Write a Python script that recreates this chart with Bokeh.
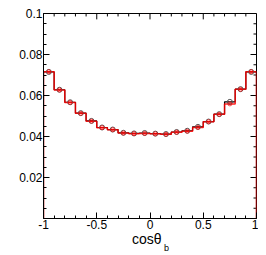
from bokeh.plotting import figure
from bokeh.models import Range1d, LinearAxis, FixedTicker, CustomJSTickFormatter
from bokeh.embed import file_html
from bokeh.resources import INLINE

# ---- data ----
bin_edges = [-1.0, -0.9, -0.8, -0.7, -0.6, -0.5, -0.4, -0.3, -0.2, -0.1, 0.0,
             0.1, 0.2, 0.3, 0.4, 0.5, 0.6, 0.7, 0.8, 0.9, 1.0]
black_vals = [0.0715, 0.0628, 0.0567, 0.0514, 0.0476, 0.0444, 0.0434, 0.0418, 0.0415, 0.0417,
              0.0414, 0.0412, 0.0422, 0.0428, 0.0447, 0.0473, 0.0509, 0.0569, 0.0631, 0.0715]
red_vals = [0.0716, 0.0627, 0.0566, 0.0513, 0.0475, 0.0443, 0.0433, 0.0417, 0.0414, 0.0415,
            0.0413, 0.0411, 0.0421, 0.0426, 0.0444, 0.0472, 0.0508, 0.0559, 0.0630, 0.0716]
red_err = [0.0004] * 20
y_ticks = [0.02, 0.04, 0.06, 0.08, 0.1]
y_minor = [0.005, 0.01, 0.015, 0.025, 0.03, 0.035, 0.045, 0.05, 0.055,
           0.065, 0.07, 0.075, 0.085, 0.09, 0.095]
x_ticks = [-1.0, -0.5, 0.0, 0.5, 1.0]
x_minor = [-0.9, -0.8, -0.7, -0.6, -0.4, -0.3, -0.2, -0.1,
           0.1, 0.2, 0.3, 0.4, 0.6, 0.7, 0.8, 0.9]
x_title = "cosθ"
x_title_pos = -0.03
x_title_sub = "b"
x_sub_pos = 0.155

FONT = "Liberation Sans"

def step_xy(edges, vals):
    xs, ys = [edges[0]], [0.0]
    for i, v in enumerate(vals):
        xs += [edges[i], edges[i + 1]]
        ys += [v, v]
    xs.append(edges[-1]); ys.append(0.0)
    return xs, ys

centers = [(bin_edges[i] + bin_edges[i + 1]) / 2 for i in range(len(black_vals))]

p = figure(width=258, height=255, output_backend="svg", toolbar_location=None,
           x_range=Range1d(-1, 1), y_range=Range1d(0, 0.1),
           x_axis_location=None, y_axis_location=None)
p.min_border = 0
p.min_border_left = 43
p.min_border_right = 2
p.min_border_top = 13
p.min_border_bottom = 33
p.xgrid.visible = False
p.ygrid.visible = False
p.outline_line_color = "black"
p.outline_line_width = 1
p.background_fill_color = "white"
p.border_fill_color = "white"

yfmt = CustomJSTickFormatter(code="var s = tick.toFixed(2); if (s.slice(-1)=='0') s = s.slice(0,-1); return s;")
xfmt = CustomJSTickFormatter(code="return String(Math.round(tick*10)/10);")

def style(ax):
    ax.axis_line_color = "black"
    ax.axis_line_width = 1
    ax.major_tick_in = 6
    ax.major_tick_out = 0
    ax.minor_tick_in = 3
    ax.minor_tick_out = 0
    ax.major_tick_line_color = "black"
    ax.minor_tick_line_color = "black"
    ax.major_label_text_font = FONT
    ax.major_label_text_font_size = "12px"
    ax.major_label_text_color = "black"

left = LinearAxis(ticker=FixedTicker(ticks=y_ticks, minor_ticks=y_minor), formatter=yfmt)
style(left)
left.major_label_standoff = 1
bottom = LinearAxis(ticker=FixedTicker(ticks=x_ticks, minor_ticks=x_minor), formatter=xfmt)
style(bottom)
bottom.major_label_standoff = 1
p.add_layout(left, "left")
p.add_layout(bottom, "below")

def text_axis(pos, txt, size, standoff):
    ax = LinearAxis(ticker=FixedTicker(ticks=[pos], minor_ticks=[]),
                    formatter=CustomJSTickFormatter(code="return '%s';" % txt))
    ax.axis_line_color = None
    ax.major_tick_line_color = None
    ax.minor_tick_line_color = None
    ax.major_tick_in = 0
    ax.major_tick_out = 0
    ax.major_label_standoff = standoff
    ax.major_label_text_font = FONT
    ax.major_label_text_font_size = size
    ax.major_label_text_color = "black"
    return ax

# axis title "cosθ" with subscript "b", as one-tick axes stacked below
p.add_layout(text_axis(x_title_pos, x_title, "14px", -1), "below")
p.add_layout(text_axis(x_sub_pos, x_title_sub, "9px", -7), "below")

# mirrored inward ticks on the top and right edges
xspan = 2.0 / 213.0   # data units per pixel (x)
yspan = 0.1 / 209.0   # data units per pixel (y)
p.segment(x0=[1.0] * len(y_ticks), y0=y_ticks, x1=[1.0 - 6 * xspan] * len(y_ticks), y1=y_ticks,
          line_color="black", line_width=1)
p.segment(x0=[1.0] * len(y_minor), y0=y_minor, x1=[1.0 - 3 * xspan] * len(y_minor), y1=y_minor,
          line_color="black", line_width=1)
p.segment(x0=x_ticks, y0=[0.1] * len(x_ticks), x1=x_ticks, y1=[0.1 - 6 * yspan] * len(x_ticks),
          line_color="black", line_width=1)
p.segment(x0=x_minor, y0=[0.1] * len(x_minor), x1=x_minor, y1=[0.1 - 3 * yspan] * len(x_minor),
          line_color="black", line_width=1)

bx, by = step_xy(bin_edges, black_vals)
p.line(bx, by, line_color="black", line_width=1.2)
rx, ry = step_xy(bin_edges, red_vals)
p.line(rx, ry, line_color="red", line_width=1.5, line_alpha=0.85)

p.scatter(centers, black_vals, marker="circle", size=5, fill_color=None,
          line_color="#555555", line_width=1)
p.segment(x0=centers, y0=[v - e for v, e in zip(red_vals, red_err)],
          x1=centers, y1=[v + e for v, e in zip(red_vals, red_err)],
          line_color="red", line_width=1)
p.scatter(centers, red_vals, marker="circle", size=4, fill_color=None,
          line_color="red", line_width=1, line_alpha=0.7)

open("out.html", "w").write(file_html(p, INLINE))
